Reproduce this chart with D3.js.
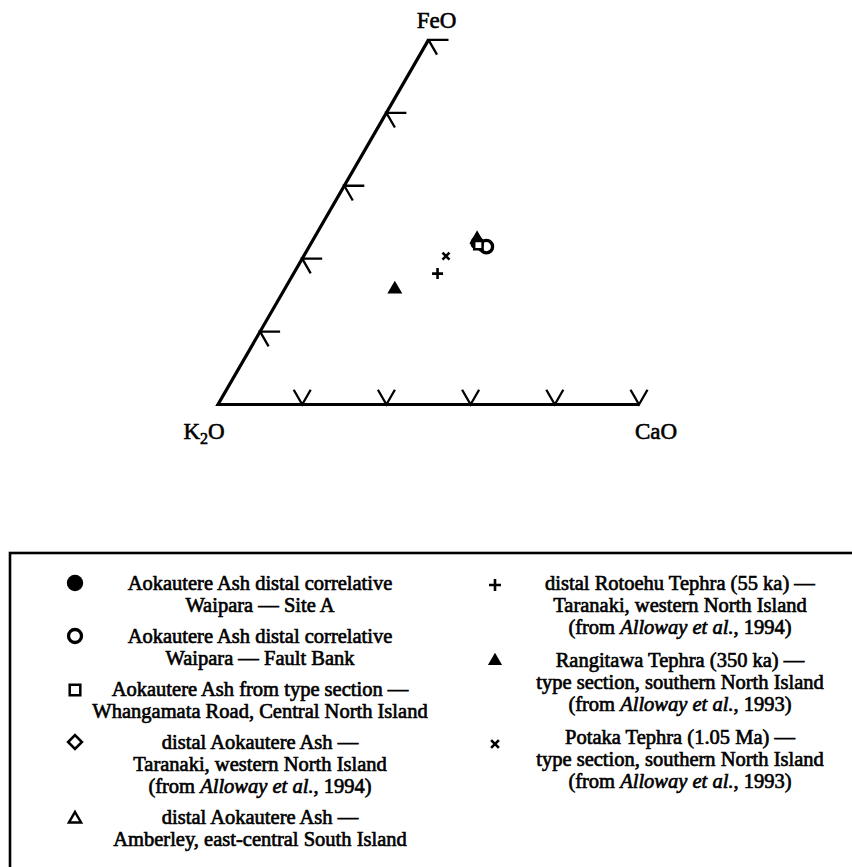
<!DOCTYPE html>
<html><head><meta charset="utf-8">
<script src="https://cdn.jsdelivr.net/npm/d3@7"></script>
<style>body{margin:0;background:#fff}</style>
</head><body>
<svg id="chart" width="852" height="867"></svg>
<script>
// ---------------- data ----------------
const axisLabels = ["FeO", "K2O", "CaO"];
const sampleNames = [
  "Aokautere Ash distal correlative, Waipara — Site A",
  "Aokautere Ash distal correlative, Waipara — Fault Bank",
  "Aokautere Ash from type section — Whangamata Road",
  "distal Aokautere Ash — Taranaki",
  "distal Aokautere Ash — Amberley",
  "distal Rotoehu Tephra (55 ka) — Taranaki",
  "Rangitawa Tephra (350 ka)",
  "Potaka Tephra (1.05 Ma)"
];
const markerKinds = ["circleFilled","circleOpen","squareOpen","diamondOpen","triangleOpen","plus","triangleFilled","times"];
const feoValues = [44.3, 43.3, 43.7, 44.0, 45.3, 35.9, 31.6, 40.7];
const caoValues = [39.4, 42.1, 40.0, 40.2, 38.9, 34.2, 26.2, 33.8];
const k2oValues = [16.3, 14.6, 16.3, 15.8, 15.8, 29.9, 42.2, 25.5];
const tickValues = [20, 40, 60, 80, 100];

const legendLeftMarkers = ["circleFilled","circleOpen","squareOpen","diamondOpen","triangleOpen"];
const legendLeftText = [
  ["Aokautere Ash distal correlative", "Waipara — Site A"],
  ["Aokautere Ash distal correlative", "Waipara — Fault Bank"],
  ["Aokautere Ash from type section —", "Whangamata Road, Central North Island"],
  ["distal Aokautere Ash —", "Taranaki, western North Island", "(from *Alloway et al.*, 1994)"],
  ["distal Aokautere Ash —", "Amberley, east-central South Island"]
];
const legendRightMarkers = ["plus","triangleFilled","times"];
const legendRightText = [
  ["distal Rotoehu Tephra (55 ka) —", "Taranaki, western North Island", "(from *Alloway et al.*, 1994)"],
  ["Rangitawa Tephra (350 ka) —", "type section, southern North Island", "(from *Alloway et al.*, 1993)"],
  ["Potaka Tephra (1.05 Ma) —", "type section, southern North Island", "(from *Alloway et al.*, 1993)"]
];

// ---------------- layout ----------------
const svg = d3.select("#chart");
svg.append("rect").attr("width", 852).attr("height", 867).attr("fill", "#fff");
const FONT = "'Liberation Serif', 'Times New Roman', serif";

const side = 421, triH = side * Math.sqrt(3) / 2;
const x0 = 218, y0 = 404.5;
const xs = d3.scaleLinear().domain([0, 100]).range([x0, x0 + side]);
const ys = d3.scaleLinear().domain([0, 100]).range([y0, y0 - triH]);
const proj = (feo, cao) => [xs(cao + feo / 2), ys(feo)];

// triangle sides (K2O–FeO and K2O–CaO)
const line = d3.line();
svg.append("path")
  .attr("d", line([proj(100, 0), proj(0, 0), proj(0, 100)]))
  .attr("fill", "none").attr("stroke", "#000").attr("stroke-width", 3.2)
  .attr("stroke-linejoin", "miter");

// ticks
const tk = 17, hk = 20;
const tickG = svg.append("g").attr("stroke", "#000").attr("stroke-width", 2.3).attr("fill", "none");
tickValues.forEach(t => {
  const p = proj(t, 0);
  tickG.append("path").attr("d", line([[p[0] + hk, p[1]], p, [p[0] + tk * 0.5, p[1] + tk * 0.866]]));
  const q = proj(0, t);
  tickG.append("path").attr("d", line([[q[0] - tk * 0.5, q[1] - tk * 0.866], q, [q[0] + tk * 0.5, q[1] - tk * 0.866]]));
});

// axis labels
const lab = svg.append("g").attr("font-family", FONT)
  .attr("font-size", 23).attr("text-anchor", "middle").attr("fill", "#000")
  .attr("stroke", "#000").attr("stroke-width", 0.6);
const apex = proj(100, 0), left = proj(0, 0), right = proj(0, 100);
lab.append("text").attr("x", apex[0] + 8).attr("y", apex[1] - 12).text(axisLabels[0]);
const kt = lab.append("text").attr("x", left[0] - 14).attr("y", left[1] + 34);
kt.append("tspan").text("K");
kt.append("tspan").attr("font-size", 16).attr("dy", 5).text("2");
kt.append("tspan").attr("dy", -5).text("O");
lab.append("text").attr("x", right[0] + 17).attr("y", right[1] + 34).text(axisLabels[2]);

// symbols
const shapes = {
  circle: { draw(c, r) { c.moveTo(r, 0); c.arc(0, 0, r, 0, 2 * Math.PI); } },
  square: { draw(c, r) { c.rect(-r, -r, 2 * r, 2 * r); } },
  diamond: { draw(c, r) { c.moveTo(0, -r); c.lineTo(r, 0); c.lineTo(0, r); c.lineTo(-r, 0); c.closePath(); } },
  triangle: { draw(c, r) { const a = r * Math.sqrt(3) / 2; c.moveTo(0, -r); c.lineTo(a, r / 2); c.lineTo(-a, r / 2); c.closePath(); } },
  plus: { draw(c, r) { c.moveTo(-r, 0); c.lineTo(r, 0); c.moveTo(0, -r); c.lineTo(0, r); } },
  times: { draw(c, r) { c.moveTo(-r, -r); c.lineTo(r, r); c.moveTo(r, -r); c.lineTo(-r, r); } }
};
const styles = {
  circleFilled:   { shape: "circle",   fill: "#000", stroke: "none", sw: 0,   plot: 6.8,  leg: 8.2 },
  circleOpen:     { shape: "circle",   fill: "#fff", stroke: "#000", sw: 3.3, plot: 6.2,  leg: 6.5 },
  squareOpen:     { shape: "square",   fill: "#fff", stroke: "#000", sw: 2.5, plot: 4.2,  leg: 5.3 },
  diamondOpen:    { shape: "diamond",  fill: "#fff", stroke: "#000", sw: 2.6, plot: 5.5,  leg: 6.9 },
  triangleOpen:   { shape: "triangle", fill: "#000", stroke: "#000", sw: 2.5, plot: 6.5,  leg: 7 },
  plus:           { shape: "plus",     fill: "none", stroke: "#000", sw: 2.6, plot: 5.5,  leg: 6 },
  triangleFilled: { shape: "triangle", fill: "#000", stroke: "none", sw: 0,   plot: 8.66, leg: 8.2 },
  times:          { shape: "times",    fill: "none", stroke: "#000", sw: 2.6, plot: 3.5,  leg: 3.9 }
};
function drawMarker(g, kind, x, y, which) {
  const s = styles[kind];
  const fill = (which === "leg" && kind === "triangleOpen") ? "#fff" : s.fill;
  g.append("path")
    .attr("d", d3.symbol().type(shapes[s.shape]).size(s[which])())
    .attr("transform", `translate(${x},${y})`)
    .attr("fill", fill).attr("stroke", s.stroke).attr("stroke-width", s.sw)
    .attr("stroke-linejoin", "miter");
}

// data points (draw order so the type-section square stays on top of the cluster)
const drawOrder = [4, 3, 1, 0, 2, 5, 6, 7];
const pts = svg.append("g");
drawOrder.forEach(i => {
  const p = proj(feoValues[i], caoValues[i]);
  drawMarker(pts, markerKinds[i], p[0], p[1], "plot");
});

// legend box
svg.append("rect").attr("x", 10).attr("y", 553).attr("width", 900).attr("height", 400)
  .attr("fill", "none").attr("stroke", "#000").attr("stroke-width", 2.6);

const legG = svg.append("g").attr("font-family", FONT)
  .attr("font-size", 20.5).attr("text-anchor", "middle").attr("fill", "#000")
  .attr("stroke", "#000").attr("stroke-width", 0.65);
function writeLine(g, str, x, y) {
  const t = g.append("text").attr("x", x).attr("y", y);
  str.split("*").forEach((part, k) => {
    if (!part) return;
    const sp = t.append("tspan").text(part);
    if (k % 2 === 1) sp.attr("font-style", "italic");
  });
}
function column(markers, texts, mx, tx, startY, lineH, gap, markerDy) {
  let y = startY;
  texts.forEach((lines, i) => {
    drawMarker(svg, markers[i], mx, y + markerDy[i], "leg");
    lines.forEach((l, j) => writeLine(legG, l, tx, y + j * lineH));
    y += lines.length * lineH + gap;
  });
}
column(legendLeftMarkers, legendLeftText, 75, 260, 590, 22, 9, [-7, -7, -6, -7, -5]);
column(legendRightMarkers, legendRightText, 495, 680, 590, 22, 11, [-5, -6, 0]);
</script>
</body></html>
